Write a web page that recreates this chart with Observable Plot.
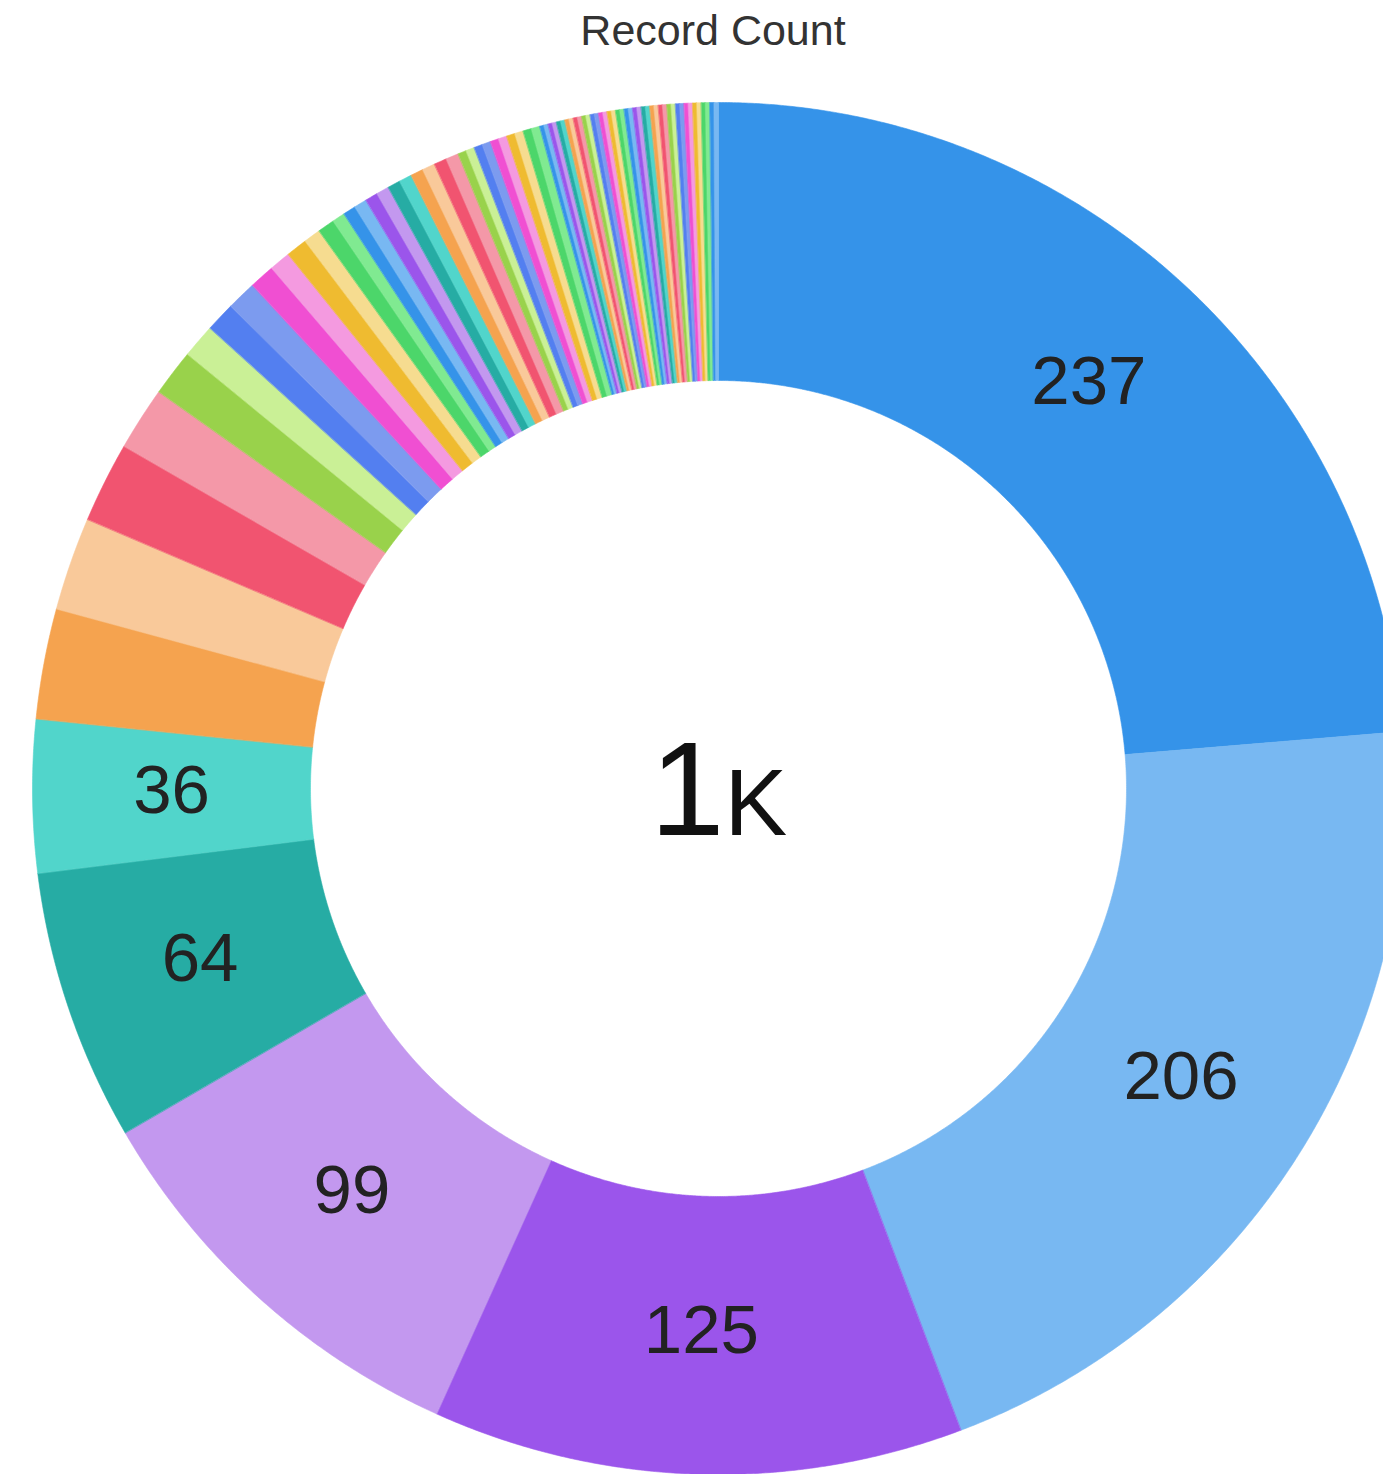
<!DOCTYPE html>
<html>
<head>
<meta charset="utf-8">
<script src="https://cdn.jsdelivr.net/npm/d3@7"></script>
<script src="https://cdn.jsdelivr.net/npm/@observablehq/plot@0.6"></script>
<style>
  html, body { margin: 0; padding: 0; background: #ffffff; }
  #title {
    height: 60px; line-height: 60px; width: 1340px; padding-left: 43px;
    text-align: center; color: #333333;
    font-family: "Liberation Sans", Arial, Helvetica, sans-serif; font-size: 43px;
  }
  #chart svg { display: block; }
</style>
</head>
<body>
<div id="title"></div>
<div id="chart"></div>
<script>
// ---- data ----
const titleText = "Record Count";
const totalLabel = "1k";
const counts = [
  237, 206, 125, 99, 64, 36, 26, 22, 19, 15, 11, 8, 7, 7, 6, 5, 5, 4, 4, 3,
  3, 3, 3, 3, 3, 3, 3, 3, 3, 3, 2, 2, 2, 2, 2, 2, 2, 2, 2, 2,
  1, 1, 1, 1, 1, 1, 1, 1, 1, 1, 1, 1, 1, 1, 1, 1, 1, 1, 1, 1,
  1, 1, 1, 1, 1, 1, 1, 1, 1, 1, 1, 1, 1, 1, 1, 1, 1, 1, 1, 1,
  1, 1
];
const labelMin = 30; // slices at or above this value carry a value label
const palette = [
  "#3593e9", "#78b8f2", "#9b55eb", "#c398ef", "#26aca4",
  "#51d5cb", "#f5a34f", "#f9c99a", "#f15470", "#f498a8",
  "#99d24b", "#caf096", "#537ff0", "#7c9bef", "#f04fd2",
  "#f49ae0", "#efbb30", "#f6dc90", "#4cd66a", "#80ea91"
];

// ---- layout ----
const W = 1383, H = 1414;
const CX = 718, CY = 728, R_OUT = 686, R_IN = 408;

document.getElementById("title").textContent = titleText;

const rows = counts.map((v, i) => ({id: i, value: v, colorIndex: i % palette.length}));
const arcs = d3.pie().sort(null).value(d => d.value)(rows);

const pt = (r, a) => [CX + r * Math.sin(a), CY - r * Math.cos(a)];

const slices = arcs.map(a => {
  const span = a.endAngle - a.startAngle;
  const n = Math.max(2, Math.ceil(span / (Math.PI / 720)) + 1);
  const angles = d3.range(n).map(k => a.startAngle + span * k / (n - 1));
  const outer = angles.map(t => pt(R_OUT, t));
  const inner = angles.slice().reverse().map(t => pt(R_IN, t));
  const ring = [...outer, ...inner, outer[0]];
  return {
    type: "Feature",
    properties: {colorIndex: a.data.colorIndex, value: a.data.value},
    geometry: {type: "Polygon", coordinates: [ring]}
  };
});

const labels = arcs.filter(a => a.data.value >= labelMin).map(a => {
  const mid = (a.startAngle + a.endAngle) / 2;
  const [x, y] = pt((R_OUT + R_IN) / 2, mid);
  return {x, y, text: String(a.data.value)};
});

const center = [{x: CX, y: CY, text: totalLabel}];

const chart = Plot.plot({
  width: W,
  height: H,
  margin: 0,
  projection: {type: "identity"},
  color: {type: "ordinal", domain: d3.range(palette.length), range: palette},
  style: {fontFamily: "'Liberation Sans', Arial, Helvetica, sans-serif", background: "#ffffff"},
  marks: [
    Plot.geo(slices, {
      fill: d => d.properties.colorIndex,
      stroke: d => d.properties.colorIndex,
      strokeWidth: 0.6
    }),
    Plot.text(labels, {x: "x", y: "y", text: "text", fontSize: 69, dy: -4, fill: "#222222"}),
    Plot.text(center, {x: "x", y: "y", text: "text", fontSize: 134, dy: 4, fontVariant: "small-caps", fill: "#111111"})
  ]
});
document.getElementById("chart").appendChild(chart);
</script>
</body>
</html>
